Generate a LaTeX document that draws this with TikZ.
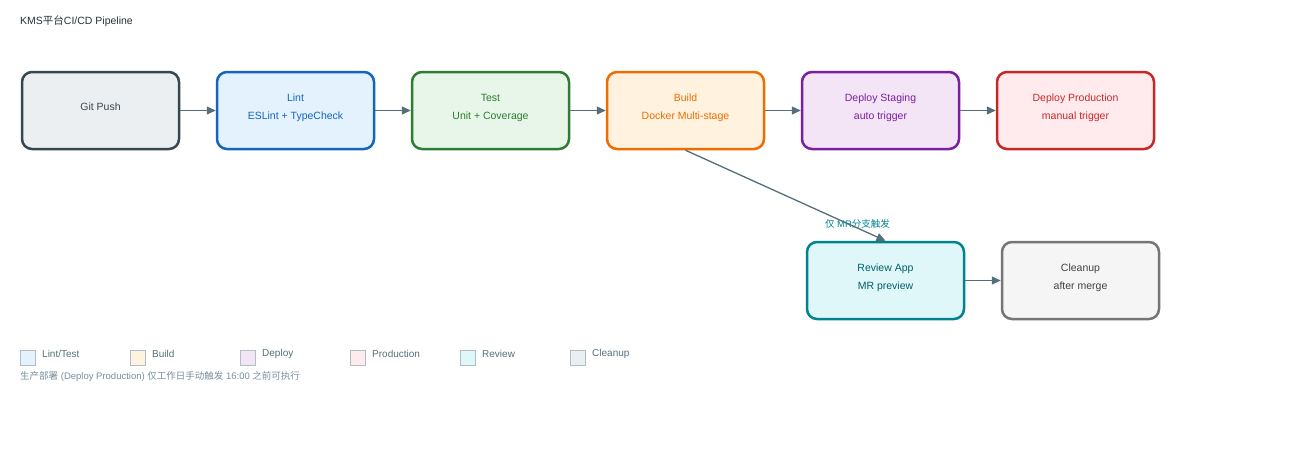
\documentclass[tikz,border=0pt]{standalone}
\usepackage{fontspec}
\setmainfont{Liberation Sans}
\newfontfamily\cjk{Noto Sans CJK SC}
\usetikzlibrary{arrows.meta}

% Couleurs des etapes
\definecolor{gitbord}{HTML}{37474F}\definecolor{gitfond}{HTML}{ECEFF1}
\definecolor{lintbord}{HTML}{1565C0}\definecolor{lintfond}{HTML}{E3F2FD}
\definecolor{testbord}{HTML}{2E7D32}\definecolor{testfond}{HTML}{E8F5E9}
\definecolor{buildbord}{HTML}{EF6C00}\definecolor{buildfond}{HTML}{FFF3E0}
\definecolor{stagebord}{HTML}{7B1FA2}\definecolor{stagefond}{HTML}{F3E5F5}
\definecolor{prodbord}{HTML}{C62828}\definecolor{prodfond}{HTML}{FFEBEE}
\definecolor{revbord}{HTML}{00838F}\definecolor{revfond}{HTML}{E0F7FA}\definecolor{revtexte}{HTML}{006064}
\definecolor{cleanbord}{HTML}{757575}\definecolor{cleanfond}{HTML}{F5F5F5}\definecolor{cleantexte}{HTML}{424242}
\definecolor{fleche}{HTML}{546E7A}
\definecolor{legbord}{HTML}{B0BEC5}
\definecolor{note}{HTML}{78909C}
\definecolor{titre}{HTML}{263238}

\tikzset{
  etape/.style n args={3}{draw=#1, fill=#2, text=#3, line width=2.5pt,
    rounded corners=10pt, minimum width=157pt, minimum height=77pt,
    align=center, font=\fontsize{10.5}{18}\selectfont,
    execute at end node={\rule[-8pt]{0pt}{8pt}}},
  lien/.style={draw=fleche, line width=1.3pt, -{Triangle[length=9pt,width=8pt]}}
}

\begin{document}
\begin{tikzpicture}[x=1pt,y=-1pt]
                  \useasboundingbox (0,0) rectangle (1300,450);

                  % Titre
                  \node[anchor=west, inner sep=0pt, text=titre, font=\fontsize{10.5}{12}\selectfont] (titre) at (20,21) {KMS{\cjk 平台}CI/CD Pipeline};

                  % Etapes du pipeline
                  \node[etape={gitbord}{gitfond}{gitbord}] (git) at (100.5,110.5) {Git Push};
                  \node[etape={lintbord}{lintfond}{lintbord}] (lint) at (295.5,110.5) {Lint\\ESLint + TypeCheck};
                  \node[etape={testbord}{testfond}{testbord}] (test) at (490.5,110.5) {Test\\Unit + Coverage};
                  \node[etape={buildbord}{buildfond}{buildbord}] (build) at (685.5,110.5) {Build\\Docker Multi-stage};
                  \node[etape={stagebord}{stagefond}{stagebord}] (staging) at (880.5,110.5) {Deploy Staging\\auto trigger};
                  \node[etape={prodbord}{prodfond}{prodbord}] (prod) at (1075.5,110.5) {Deploy Production\\manual trigger};
                  \node[etape={revbord}{revfond}{revtexte}] (review) at (885.5,280.5) {Review App\\MR preview};
                  \node[etape={cleanbord}{cleanfond}{cleantexte}] (cleanup) at (1080.5,280.5) {Cleanup\\after merge};

                  % Fleches
                  \foreach \a/\b in {git/lint, lint/test, test/build, build/staging, staging/prod, review/cleanup} {
                          \draw[lien] (\a.east) -- (\b.west);
                      }
                  \draw[lien] (build.south) -- (review.north)
                      node[pos=0.81, xshift=10pt, text=revbord, font=\fontsize{9.5}{11}\selectfont] (mr) {{\cjk 仅} MR{\cjk 分支触发}};

                  % Legende
                  \foreach \x/\couleur/\texte [count=\i] in {20/lintfond/{Lint/Test}, 130/buildfond/Build, 240/stagefond/Deploy, 350/prodfond/Production, 460/revfond/Review, 570/gitfond/Cleanup} {
                          \node[draw=legbord, fill=\couleur, line width=1pt, minimum size=15pt, inner sep=0pt, anchor=north west] (carre\i) at (\x,349.5) {};
                          \node[anchor=west, inner sep=0pt, text=fleche, font=\fontsize{10}{12}\selectfont] (legende\i) at (\x+22,354) {\texte};
                      }

                  % Remarque
                  \node[anchor=west, inner sep=0pt, text=note, font=\fontsize{9.5}{11}\selectfont] (remarque) at (20,376) {{\cjk 生产部署} (Deploy Production) {\cjk 仅工作日手动触发} 16:00 {\cjk 之前可执行}};
              \end{tikzpicture}
\end{document}
